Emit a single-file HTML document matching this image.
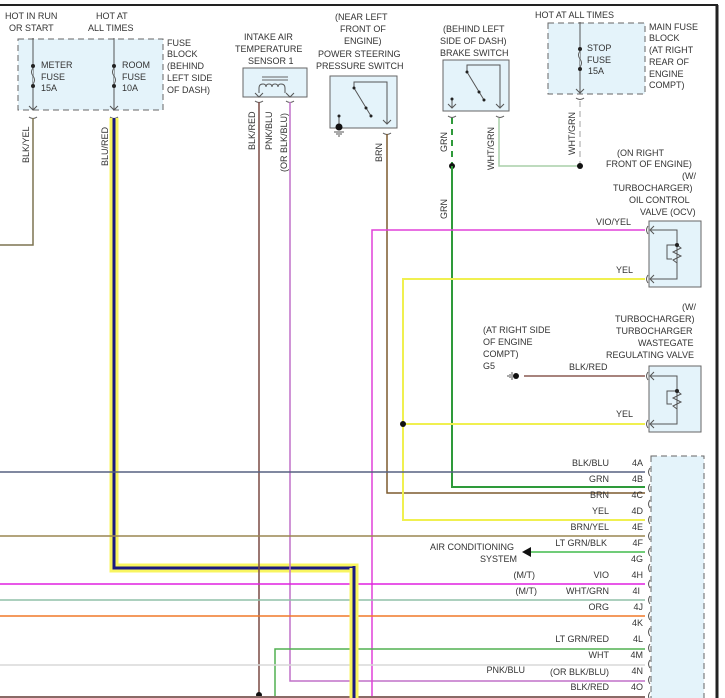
<!DOCTYPE html>
<html><head><meta charset="utf-8"><style>
html,body{margin:0;padding:0;background:#fff;}
svg{display:block;}
text{font-family:"Liberation Sans",sans-serif;font-size:9px;fill:#333;}
</style></head><body>
<svg width="725" height="698" viewBox="0 0 725 698" xmlns="http://www.w3.org/2000/svg">
<rect width="725" height="698" fill="#fff"/>
<!-- border -->
<line x1="0" y1="5" x2="718" y2="5" stroke="#222" stroke-width="2"/>
<line x1="717" y1="5" x2="717" y2="698" stroke="#222" stroke-width="3"/>

<!-- fuse block -->
<rect x="18" y="39" width="145" height="71" fill="#e4f3fa" stroke="#666" stroke-dasharray="6,4"/>
<line x1="33" y1="38" x2="33" y2="110" stroke="#555"/>
<line x1="114" y1="38" x2="114" y2="110" stroke="#555"/>
<circle cx="33" cy="66" r="2" fill="#222"/><circle cx="33" cy="86" r="2" fill="#222"/>
<circle cx="114" cy="66" r="2" fill="#222"/><circle cx="114" cy="86" r="2" fill="#222"/>
<path d="M33 68 q-3 4 0 8 q3 4 0 8" fill="#e4f3fa" stroke="#555"/>
<path d="M114 68 q-3 4 0 8 q3 4 0 8" fill="#e4f3fa" stroke="#555"/>
<path d="M29 106 l4 4 l4 -4 M29 117 q4 3 8 0 M110 106 l4 4 l4 -4 M110 117 q4 3 8 0" fill="none" stroke="#555"/>
<text x="5" y="19">HOT IN RUN</text><text x="9" y="31">OR START</text>
<text x="96" y="19">HOT AT</text><text x="88" y="31">ALL TIMES</text>
<text x="41" y="68">METER</text><text x="41" y="80">FUSE</text><text x="41" y="91">15A</text>
<text x="122" y="68">ROOM</text><text x="122" y="80">FUSE</text><text x="122" y="91">10A</text>
<text x="167" y="46">FUSE</text><text x="167" y="57">BLOCK</text><text x="167" y="69">(BEHIND</text><text x="167" y="81">LEFT SIDE</text><text x="167" y="93">OF DASH)</text>

<!-- BLK/YEL -->
<polyline points="33,118 33,245 0,245" fill="none" stroke="#7d7350" stroke-width="1.5"/>
<text transform="translate(29,163) rotate(-90)">BLK/YEL</text>
<!-- BLU/RED -->
<polyline points="114,118 114,568 354,568 354,698" fill="none" stroke="#f8f560" stroke-width="9"/>
<polyline points="114,118 114,568 354,568 354,698" fill="none" stroke="#1a1a80" stroke-width="3"/>
<text transform="translate(108,166) rotate(-90)">BLU/RED</text>

<!-- intake air sensor -->
<text x="244" y="40">INTAKE AIR</text><text x="235" y="52">TEMPERATURE</text><text x="248" y="64">SENSOR 1</text>
<rect x="243" y="68" width="64" height="29" fill="#e4f3fa" stroke="#666"/>
<path d="M262 77 h26 M262 80 h26" stroke="#666"/>
<path d="M259 93 v-5 q0 -4 4 -4 q3 0 3 3 q0 -3 3 -3 q3 0 3 3 q0 -3 3 -3 q3 0 3 3 q0 -3 3 -3 q4 0 4 4 v5" fill="none" stroke="#555"/>
<path d="M255 93 l4 4 l4 -4 M286 93 l4 4 l4 -4 M255 101 q4 3 8 0 M286 101 q4 3 8 0" fill="none" stroke="#555"/>
<line x1="259" y1="102" x2="259" y2="694" stroke="#7a4a44" stroke-width="1.5"/>
<circle cx="259" cy="695" r="3" fill="#111"/>
<polyline points="290,102 290,681 645,681" fill="none" stroke="#c070c8" stroke-width="1.5"/>
<text transform="translate(255,150) rotate(-90)">BLK/RED</text>
<text transform="translate(272,150) rotate(-90)">PNK/BLU</text>
<text transform="translate(287,172) rotate(-90)">(OR BLK/BLU)</text>

<!-- power steering switch -->
<text x="335" y="20">(NEAR LEFT</text><text x="340" y="32">FRONT OF</text><text x="344" y="44">ENGINE)</text>
<text x="318" y="57">POWER STEERING</text><text x="316" y="69">PRESSURE SWITCH</text>
<rect x="330" y="76" width="67" height="52" fill="#e4f3fa" stroke="#666"/>
<polyline points="354,88 354,82 387,82 387,124" fill="none" stroke="#555"/>
<line x1="354" y1="88" x2="371" y2="116" stroke="#555"/><circle cx="354" cy="88" r="1.5" fill="#222"/><circle cx="371" cy="116" r="1.5" fill="#222"/><circle cx="366" cy="108" r="1.5" fill="#222"/>
<line x1="339" y1="116" x2="339" y2="128" stroke="#555"/><circle cx="339" cy="116" r="1.5" fill="#222"/><circle cx="339" cy="127" r="3.5" fill="#111"/>
<path d="M334 132 h10 M336 134 h6 M338 136 h2" stroke="#555"/>
<path d="M383 120 l4 4 l4 -4 M383 133 q4 3 8 0" fill="none" stroke="#555"/>
<polyline points="387,134 387,493 645,493" fill="none" stroke="#7d5a2e" stroke-width="1.5"/>
<text transform="translate(382,162) rotate(-90)">BRN</text>

<!-- brake switch -->
<text x="443" y="32">(BEHIND LEFT</text><text x="440" y="44">SIDE OF DASH)</text><text x="440" y="56">BRAKE SWITCH</text>
<rect x="443" y="60" width="66" height="51" fill="#e4f3fa" stroke="#666"/>
<polyline points="467,72 467,65 500,65 500,107" fill="none" stroke="#555"/>
<line x1="467" y1="72" x2="484" y2="100" stroke="#555"/><circle cx="467" cy="72" r="1.5" fill="#222"/><circle cx="484" cy="100" r="1.5" fill="#222"/><circle cx="479" cy="92" r="1.5" fill="#222"/>
<line x1="452" y1="99" x2="452" y2="108" stroke="#555"/><circle cx="452" cy="99" r="1.5" fill="#222"/>
<path d="M448 104 l4 4 l4 -4 M496 104 l4 4 l4 -4 M448 116 q4 3 8 0 M496 116 q4 3 8 0" fill="none" stroke="#555"/>
<line x1="452" y1="118" x2="452" y2="166" stroke="#2e9a3a" stroke-width="2" stroke-dasharray="6,5"/>
<circle cx="452" cy="166" r="3" fill="#111"/>
<polyline points="452,166 452,487 645,487" fill="none" stroke="#2e9a3a" stroke-width="2"/>
<polyline points="499,118 499,166 580,166" fill="none" stroke="#a8cfa8" stroke-width="1.5"/>
<text transform="translate(447,152) rotate(-90)">GRN</text>
<text transform="translate(447,219) rotate(-90)">GRN</text>
<text transform="translate(494,170) rotate(-90)">WHT/GRN</text>

<!-- main fuse block -->
<text x="535" y="18">HOT AT ALL TIMES</text>
<rect x="548" y="23" width="97" height="71" fill="#e4f3fa" stroke="#666" stroke-dasharray="6,4"/>
<line x1="580" y1="22" x2="580" y2="94" stroke="#555"/>
<circle cx="580" cy="49" r="2" fill="#222"/><circle cx="580" cy="69" r="2" fill="#222"/>
<path d="M580 51 q-3 4 0 8 q3 4 0 8" fill="#e4f3fa" stroke="#555"/>
<path d="M576 89 l4 4 l4 -4 M576 98 q4 3 8 0" fill="none" stroke="#555"/>
<text x="587" y="51">STOP</text><text x="587" y="63">FUSE</text><text x="588" y="74">15A</text>
<text x="649" y="30">MAIN FUSE</text><text x="649" y="41">BLOCK</text><text x="649" y="53">(AT RIGHT</text><text x="649" y="65">REAR OF</text><text x="649" y="77">ENGINE</text><text x="649" y="88">COMPT)</text>
<line x1="580" y1="101" x2="580" y2="166" stroke="#d0d0d0" stroke-width="2" stroke-dasharray="6,4"/>
<circle cx="580" cy="166" r="3" fill="#111"/>
<text transform="translate(575,155) rotate(-90)">WHT/GRN</text>

<!-- OCV -->
<text x="617" y="156">(ON RIGHT</text><text x="606" y="167">FRONT OF ENGINE)</text><text x="682" y="179">(W/</text>
<text x="613" y="191">TURBOCHARGER)</text><text x="629" y="203">OIL CONTROL</text><text x="640" y="215">VALVE (OCV)</text>
<rect x="649" y="221" width="52" height="66" fill="#e4f3fa" stroke="#666"/>
<polyline points="651,230 677,230 677,279 651,279" fill="none" stroke="#555"/>
<path d="M677 245 l4 3 l-8 4 l8 4 l-8 4 l4 3" fill="none" stroke="#555"/>
<polyline points="677,245 667,245 667,259 672,259" fill="none" stroke="#555"/><circle cx="677" cy="245" r="2" fill="#222"/>
<path d="M654 226 l-4 4 l4 4 M648 226 q-3 4 0 8 M654 275 l-4 4 l4 4 M648 275 q-3 4 0 8" fill="none" stroke="#555"/>
<text x="596" y="225">VIO/YEL</text><text x="616" y="273">YEL</text>
<polyline points="645,230 372,230 372,698" fill="none" stroke="#e040d8" stroke-width="1.5"/>
<polyline points="645,279 403,279 403,520 645,520" fill="none" stroke="#f0f050" stroke-width="2"/>

<!-- wastegate -->
<text x="483" y="333">(AT RIGHT SIDE</text><text x="483" y="345">OF ENGINE</text><text x="483" y="357">COMPT)</text><text x="483" y="369">G5</text>
<text x="682" y="310">(W/</text><text x="615" y="322">TURBOCHARGER)</text><text x="616" y="334">TURBOCHARGER</text>
<text x="638" y="346">WASTEGATE</text><text x="606" y="358">REGULATING VALVE</text>
<rect x="649" y="366" width="52" height="66" fill="#e4f3fa" stroke="#666"/>
<polyline points="651,376 677,376 677,424 651,424" fill="none" stroke="#555"/>
<path d="M677 391 l4 3 l-8 4 l8 4 l-8 4 l4 3" fill="none" stroke="#555"/>
<polyline points="677,391 667,391 667,404 672,404" fill="none" stroke="#555"/><circle cx="677" cy="391" r="2" fill="#222"/>
<path d="M654 372 l-4 4 l4 4 M648 372 q-3 4 0 8 M654 420 l-4 4 l4 4 M648 420 q-3 4 0 8" fill="none" stroke="#555"/>
<text x="569" y="370">BLK/RED</text><text x="616" y="417">YEL</text>
<line x1="524" y1="376" x2="645" y2="376" stroke="#8a5a52" stroke-width="1.5"/>
<circle cx="516" cy="376" r="3" fill="#111"/><path d="M512 372 v8 M510 374 v4 M508 375 v2" stroke="#555"/>
<line x1="403" y1="424" x2="645" y2="424" stroke="#f0f050" stroke-width="2"/>
<circle cx="403" cy="424" r="3" fill="#111"/>

<!-- ECM connector -->
<rect x="651" y="456" width="53" height="250" fill="#e4f3fa" stroke="#666" stroke-dasharray="6,4"/>
<g fill="none" stroke="#555">
<path d="M650 468 q-3 4 0 8 M650 484 q-3 4 0 8 M650 500 q-3 4 0 8 M650 516 q-3 4 0 8 M650 532 q-3 4 0 8 M650 548 q-3 4 0 8 M650 564 q-3 4 0 8 M650 580 q-3 4 0 8 M650 596 q-3 4 0 8 M650 612 q-3 4 0 8 M650 628 q-3 4 0 8 M650 644 q-3 4 0 8 M650 660 q-3 4 0 8 M650 676 q-3 4 0 8 M650 692 q-3 4 0 8"/>
</g>
<!-- long wires -->
<line x1="0" y1="472" x2="645" y2="472" stroke="#566080" stroke-width="1.5"/>
<line x1="0" y1="536" x2="645" y2="536" stroke="#9a8650" stroke-width="1.5"/>
<line x1="530" y1="552" x2="645" y2="552" stroke="#70cc78" stroke-width="2"/>
<polygon points="522,552 531,547 531,557" fill="#111"/>
<line x1="0" y1="584" x2="645" y2="584" stroke="#e020e0" stroke-width="1.5"/>
<line x1="0" y1="600" x2="645" y2="600" stroke="#90c0a8" stroke-width="1.5"/>
<line x1="0" y1="616" x2="645" y2="616" stroke="#f07828" stroke-width="1.5"/>
<polyline points="275,698 275,649 645,649" fill="none" stroke="#50b050" stroke-width="1.5"/>
<line x1="0" y1="665" x2="645" y2="665" stroke="#d8d8d8" stroke-width="1.5"/>
<line x1="0" y1="697" x2="645" y2="697" stroke="#8a6a66" stroke-width="2"/>
<!-- redraw BLU/RED on top of horizontal wires crossing -->
<line x1="354" y1="568" x2="354" y2="698" stroke="#f8f560" stroke-width="9"/>
<line x1="354" y1="566" x2="354" y2="698" stroke="#1a1a80" stroke-width="3"/>

<g text-anchor="end">
<text x="609" y="466">BLK/BLU</text><text x="609" y="482">GRN</text><text x="609" y="498">BRN</text><text x="609" y="514">YEL</text>
<text x="609" y="530">BRN/YEL</text><text x="607" y="546">LT GRN/BLK</text><text x="609" y="578">VIO</text><text x="609" y="594">WHT/GRN</text>
<text x="609" y="610">ORG</text><text x="609" y="642">LT GRN/RED</text><text x="609" y="658">WHT</text><text x="609" y="675">(OR BLK/BLU)</text><text x="609" y="690">BLK/RED</text>
<text x="535" y="578">(M/T)</text><text x="537" y="594">(M/T)</text><text x="525" y="673">PNK/BLU</text>
<text x="643" y="466">4A</text><text x="643" y="482">4B</text><text x="643" y="498">4C</text><text x="643" y="514">4D</text><text x="643" y="530">4E</text>
<text x="643" y="546">4F</text><text x="643" y="562">4G</text><text x="643" y="578">4H</text><text x="640" y="594">4I</text><text x="643" y="610">4J</text>
<text x="643" y="626">4K</text><text x="643" y="642">4L</text><text x="643" y="658">4M</text><text x="643" y="674">4N</text><text x="643" y="690">4O</text>
<text x="514" y="550">AIR CONDITIONING</text><text x="517" y="562">SYSTEM</text>
</g>
</svg>
</body></html>
